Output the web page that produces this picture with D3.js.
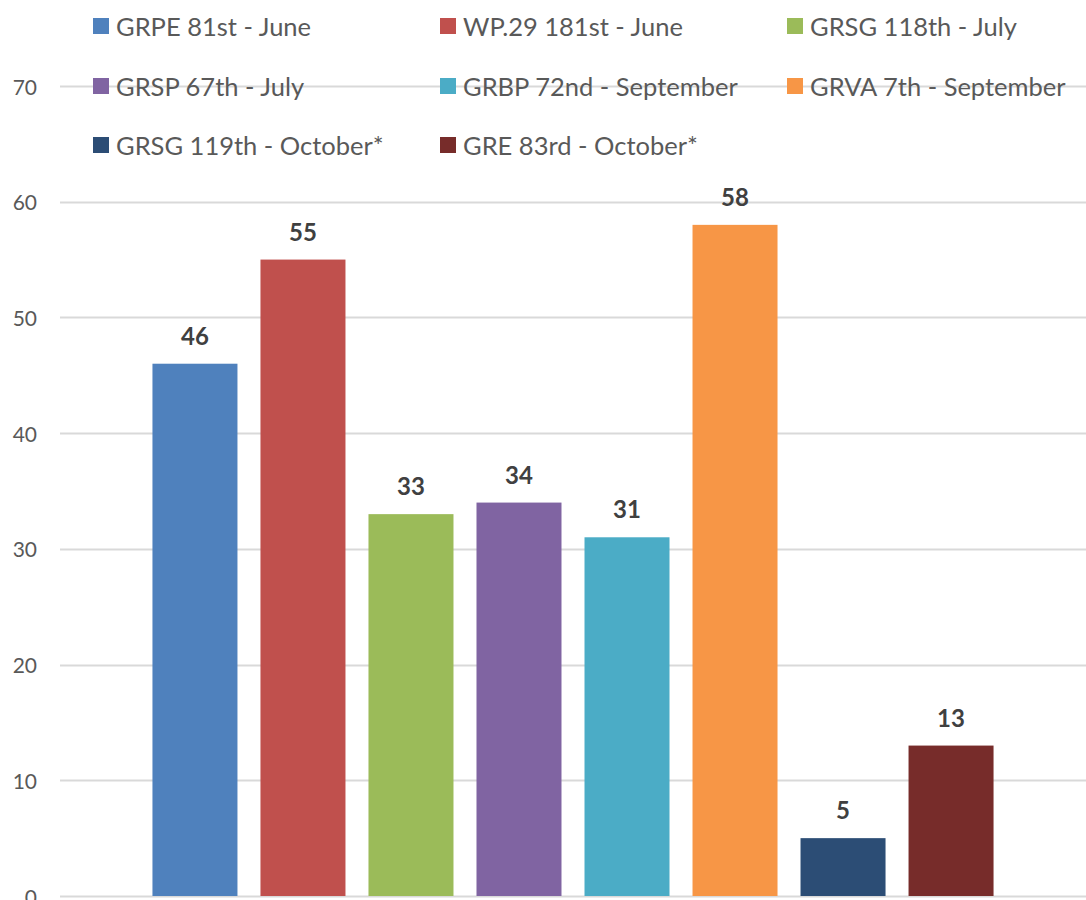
<!DOCTYPE html>
<meta charset="utf-8">
<html>
<head>
  <script src="https://d3js.org/d3.v7.min.js"></script>
</head>
<style>
body { margin: 0; background: white; }
svg text { font-family: Lato, "Liberation Sans", sans-serif; }
</style>
<body>
<div id="container"></div>
<script>

var series = ["GRPE 81st - June", "WP.29 181st - June", "GRSG 118th - July",
              "GRSP 67th - July", "GRBP 72nd - September", "GRVA 7th - September",
              "GRSG 119th - October*", "GRE 83rd - October*"]
var values = [46, 55, 33, 34, 31, 58, 5, 13]
var colors = ["#4F81BD", "#C0504D", "#9BBB59", "#8064A2", "#4BACC6", "#F79646", "#2C4D75", "#772C2A"]
var yTicks = [0, 10, 20, 30, 40, 50, 60, 70]

var width = 1086
var height = 900
var plot = {left: 60, right: 1086, top: 86, bottom: 896}

const svg = d3.select("#container")
              .append("svg")
              .attr("width", width)
              .attr("height", height)

var x = d3.scaleBand()
          .domain(series)
          .range([plot.left, plot.right])
          .paddingInner(0.213)
          .paddingOuter(0.856)

var y = d3.scaleLinear()
          .domain([0, 70])
          .range([plot.bottom, plot.top])

// gridlines
svg.selectAll(".grid")
   .data(yTicks)
   .enter()
   .append("line")
   .attr("x1", plot.left)
   .attr("x2", width + 10)
   .attr("y1", (d) => Math.round(y(d)) + 0.5)
   .attr("y2", (d) => Math.round(y(d)) + 0.5)
   .attr("stroke", "#d9d9d9")
   .attr("stroke-width", 2)

svg.selectAll(".ytick")
   .data(yTicks)
   .enter()
   .append("text")
   .attr("x", 37)
   .attr("y", (d) => y(d))
   .attr("text-anchor", "end")
   .attr("dominant-baseline", "central")
   .attr("font-size", "21px")
   .attr("fill", "#595959")
   .text((d) => d)

// bars
svg.selectAll(".bar")
   .data(values)
   .enter()
   .append("rect")
   .attr("x", (d, i) => x(series[i]))
   .attr("y", (d) => y(d))
   .attr("width", x.bandwidth())
   .attr("height", (d) => y(0) - y(d))
   .attr("fill", (d, i) => colors[i])

svg.selectAll(".label")
   .data(values)
   .enter()
   .append("text")
   .attr("x", (d, i) => x(series[i]) + x.bandwidth() / 2)
   .attr("y", (d) => y(d) - 19)
   .attr("text-anchor", "middle")
   .attr("font-size", "24px")
   .attr("font-weight", "bold")
   .attr("fill", "#404040")
   .text((d) => d)

// legend, 3 per row
var legendCols = [93, 440, 787]
var legendRows = [26, 86, 145]

var legend = svg.append("g")

legend.selectAll("rect")
      .data(series)
      .enter()
      .append("rect")
      .attr("x", (d, i) => legendCols[i % 3])
      .attr("y", (d, i) => legendRows[Math.floor(i / 3)] - 8)
      .attr("width", 16)
      .attr("height", 16)
      .attr("fill", (d, i) => colors[i])

legend.selectAll("text")
      .data(series)
      .enter()
      .append("text")
      .attr("x", (d, i) => legendCols[i % 3] + 23)
      .attr("y", (d, i) => legendRows[Math.floor(i / 3)])
      .attr("dominant-baseline", "central")
      .attr("font-size", "25.5px")
      .attr("fill", "#595959")
      .text((d) => d)

</script>
</body>
</html>
